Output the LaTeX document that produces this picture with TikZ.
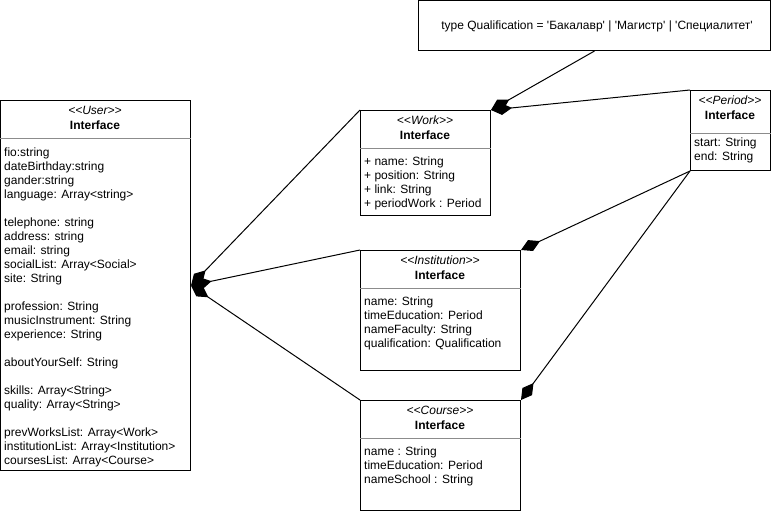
\documentclass[tikz,border=0pt]{standalone}
\usepackage{fontspec}
\setmainfont{Liberation Sans}
\usetikzlibrary{arrows.meta,positioning}

\tikzset{
  classbox/.style={draw, line width=1pt, fill=white, anchor=north west, inner sep=0pt},
  head/.style={align=center, inner sep=0pt, font=\fontsize{12}{15}\selectfont},
  attrs/.style={align=left, anchor=north west, inner sep=0pt, font=\fontsize{12}{14}\selectfont},
  divider/.style={draw=black!45, line width=0.8pt},
  comp/.style={line width=1pt, -{Diamond[length=21pt, width=12pt]}},
}
\newcommand{\q}{\textquotesingle}

\begin{document}
\begin{tikzpicture}[x=1pt, y=-1pt]
   \useasboundingbox (0,0) rectangle (771,511);

   % classes
   \node[classbox, minimum width=190pt, minimum height=370pt] (user) at (0,100) {};
   \node[classbox, minimum width=130pt, minimum height=105pt] (work) at (360,110) {};
   \node[classbox, minimum width=160pt, minimum height=120pt] (inst) at (360,250) {};
   \node[classbox, minimum width=160pt, minimum height=110pt] (course) at (360,400) {};
   \node[classbox, minimum width=80pt, minimum height=80pt] (period) at (690,90) {};
   \node[classbox, minimum width=352pt, minimum height=50pt] (qual) at (418,0) {};

   % headers
   \node[head] (userhead) at (95,118) {\textit{<{}<User>{}>}\\\textbf{Interface}};
   \node[head] (workhead) at (425,128) {\textit{<{}<Work>{}>}\\\textbf{Interface}};
   \node[head] (insthead) at (440,268) {\textit{<{}<Institution>{}>}\\\textbf{Interface}};
   \node[head] (coursehead) at (440,418) {\textit{<{}<Course>{}>}\\\textbf{Interface}};
   \node[head] (periodhead) at (730,108) {\textit{<{}<Period>{}>}\\\textbf{Interface}};
   \node[head] (qualtext) at (597,26) {type Qualification = \q Бакалавр\q{} | \q Магистр\q{} | \q Специалитет\q};

   \draw[divider] (user.west |- 0,138) -- (user.east |- 0,138);
   \draw[divider] (work.west |- 0,148) -- (work.east |- 0,148);
   \draw[divider] (inst.west |- 0,288) -- (inst.east |- 0,288);
   \draw[divider] (course.west |- 0,438) -- (course.east |- 0,438);
   \draw[divider] (period.west |- 0,133) -- (period.east |- 0,133);

   % attributes
   \node[attrs] (userattrs) at (4,148) {fio:string\\dateBirthday:string\\gander:string\\language: Array<string>\\[14pt]
      telephone: string\\address: string\\email: string\\socialList: Array<Social>\\site: String\\[14pt]
      profession: String\\musicInstrument: String\\experience: String\\[14pt]
      aboutYourSelf: String\\[14pt]
      skills: Array<String>\\quality: Array<String>\\[14pt]
      prevWorksList: Array<Work>\\institutionList: Array<Institution>\\coursesList: Array<Course>};
   \node[attrs] (workattrs) at (364,157) {+ name: String\\+ position: String\\+ link: String\\+ periodWork : Period};
   \node[attrs] (instattrs) at (364,297) {name: String\\timeEducation: Period\\nameFaculty: String\\qualification: Qualification};
   \node[attrs] (courseattrs) at (364,447) {name : String\\timeEducation: Period\\nameSchool : String};
   \node[attrs] (periodattrs) at (694,138) {start: String\\end: String};

   % compositions
   \draw[comp] (work.north west) -- (user.east);
   \draw[comp] (inst.north west) -- (user.east);
   \draw[comp] (course.north west) -- (user.east);
   \draw[comp] (qual.south) -- (work.north east);
   \draw[comp] (period.north west) -- (work.north east);
   \draw[comp] (period.south west) -- (inst.north east);
   \draw[comp] (period.south west) -- (course.north east);
\end{tikzpicture}
\end{document}
